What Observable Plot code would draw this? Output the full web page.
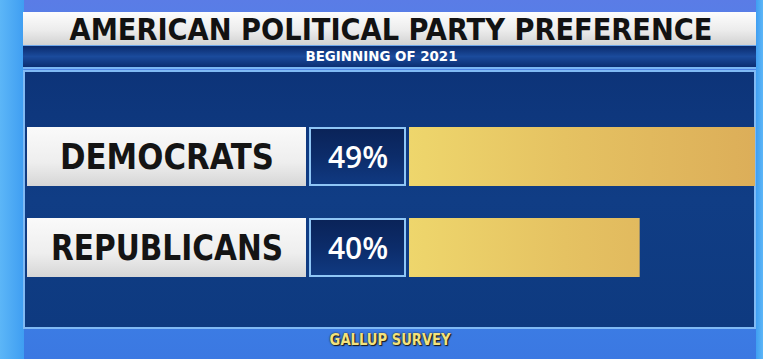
<!DOCTYPE html>
<html><head><meta charset="utf-8">
<script src="https://cdn.jsdelivr.net/npm/d3@7"></script>
<script src="https://cdn.jsdelivr.net/npm/@observablehq/plot@0.6"></script>
<style>
html,body{margin:0;padding:0;background:#3a7be2;}
#stage{position:relative;width:763px;height:359px;overflow:hidden;
 background:linear-gradient(180deg,#5a7ce6 0%,#3f8eec 45%,#3b78e2 100%);}
.abs{position:absolute;}
#leftstrip{left:0;top:0;width:24px;height:359px;background:linear-gradient(90deg,#5cb6f7,#3f9ef2);}
#rightstrip{left:756px;top:0;width:7px;height:359px;background:linear-gradient(90deg,#3f9ef2,#5cb6f7);}
#titlebar{left:23px;top:12px;width:733px;height:33px;background:linear-gradient(180deg,#fdfdfd,#ececec 55%,#d2d2d2);}
#subbar{left:23px;top:45px;width:733px;height:24px;background:linear-gradient(180deg,#0a2a6c,#1b4b9c 50%,#0b2e72);border-top:1px solid #6fa6e8;border-bottom:2px solid #7ab6f3;box-sizing:border-box;}
#panel{left:23px;top:70px;width:733px;height:259px;background:linear-gradient(180deg,#0d3479,#103d85 50%,#0e3a80);border:2px solid #80baf4;box-sizing:border-box;}
.txt{white-space:nowrap;transform-origin:center center;text-align:center;}
#title{left:0;width:782px;top:12px;height:33px;line-height:33px;font:bold 30px "DejaVu Sans Condensed",sans-serif;color:#121212;}
#subtitle{left:0;width:762px;top:48px;height:20px;line-height:20px;font:bold 14px "DejaVu Sans Condensed",sans-serif;color:#ffffff;}
#caption{left:0;width:781px;top:331px;height:20px;line-height:20px;font:bold 15px "DejaVu Sans Condensed",sans-serif;color:#f3e27c;text-shadow:0 0 2px #1a1a1a,1px 1px 1px #1a1a1a;}
#title span,#subtitle span,#caption span{line-height:1.1;}
.chart{position:absolute;top:0;}
</style>
</head><body>
<div id="stage">
  <div id="leftstrip" class="abs"></div>
  <div id="rightstrip" class="abs"></div>
  <div id="titlebar" class="abs"></div>
  <div id="subbar" class="abs"></div>
  <div id="panel" class="abs"></div>
  <div id="title" class="abs txt"><span>AMERICAN POLITICAL PARTY PREFERENCE</span></div>
  <div id="subtitle" class="abs txt"><span>BEGINNING OF 2021</span></div>
  <div id="caption" class="abs txt"><span>GALLUP SURVEY</span></div>
</div>
<script>
// ---- data ----
const parties = ["DEMOCRATS", "REPUBLICANS"];
const shares = [49, 40];
const shareLabels = ["49%", "40%"];
const data = parties.map((p, i) => ({party: p, share: shares[i], label: shareLabels[i]}));

const condensed = '"DejaVu Sans Condensed",sans-serif';
const yOpts = () => ({domain: parties, range: [127, 277], paddingInner: 0.352, paddingOuter: 0, axis: null});

function addDefs(svg, html) {
  d3.select(svg).insert("defs", ":first-child").html(html);
}

// Column 1: party labels
const labelChart = Plot.plot({
  width: 279, height: 359, margin: 0,
  y: yOpts(),
  style: {background: "transparent", fontFamily: condensed},
  marks: [
    Plot.cell(data, {y: "party", fill: "url(#whiteGrad)"}),
    Plot.text(data, {y: "party", text: "party", fontSize: 35, fontWeight: 700, fill: "#141414", dy: 1})
  ]
});
addDefs(labelChart, '<linearGradient id="whiteGrad" x1="0" y1="0" x2="0" y2="1"><stop offset="0" stop-color="#fafafa"/><stop offset="0.6" stop-color="#eeeeee"/><stop offset="1" stop-color="#d6d6d6"/></linearGradient>');
labelChart.classList.add("chart"); labelChart.style.left = "27px";

// Column 2: share labels
const valueChart = Plot.plot({
  width: 97, height: 359, margin: 0,
  y: yOpts(),
  style: {background: "transparent", fontFamily: "'Open Sans', sans-serif"},
  marks: [
    Plot.cell(data, {y: "party", fill: "url(#navyGrad)", stroke: "#8fc6f6", strokeWidth: 2, inset: 1}),
    Plot.text(data, {y: "party", text: "label", fontSize: 30, fontWeight: 600, fill: "#ffffff", dy: 1})
  ]
});
addDefs(valueChart, '<linearGradient id="navyGrad" x1="0" y1="0" x2="0" y2="1"><stop offset="0" stop-color="#0a2358"/><stop offset="0.5" stop-color="#0c2c6a"/><stop offset="1" stop-color="#103a82"/></linearGradient>');
valueChart.classList.add("chart"); valueChart.style.left = "309px";

// Column 3: bars
const barChart = Plot.plot({
  width: 347, height: 359, margin: 0,
  x: {domain: [22, 49], range: [0, 346], clamp: true, axis: null},
  y: yOpts(),
  style: {background: "transparent"},
  marks: [
    Plot.barX(data, {x: "share", y: "party", fill: "url(#goldGrad)"})
  ]
});
addDefs(barChart, '<linearGradient id="goldGrad" gradientUnits="userSpaceOnUse" x1="0" y1="0" x2="346" y2="0"><stop offset="0" stop-color="#eed66c"/><stop offset="0.45" stop-color="#e5c262"/><stop offset="1" stop-color="#dcae59"/></linearGradient>');
barChart.classList.add("chart"); barChart.style.left = "409px";

const stage = document.getElementById("stage");
stage.appendChild(labelChart);
stage.appendChild(valueChart);
stage.appendChild(barChart);

// fit header texts to reference widths
function fit(id, target) {
  const span = document.querySelector("#" + id + " span");
  span.style.display = "inline-block";
  const w = span.getBoundingClientRect().width;
  span.style.transform = "scaleX(" + (target / w) + ")";
}
fit("title", 643);
fit("subtitle", 152);
fit("caption", 121);

// fit party labels to reference widths
const targets = {"DEMOCRATS": 214, "REPUBLICANS": 232};
d3.select(labelChart).selectAll("text").each(function() {
  const t = this.textContent;
  if (targets[t]) {
    this.setAttribute("textLength", targets[t]);
    this.setAttribute("lengthAdjust", "spacingAndGlyphs");
  }
});
</script>
</body></html>
